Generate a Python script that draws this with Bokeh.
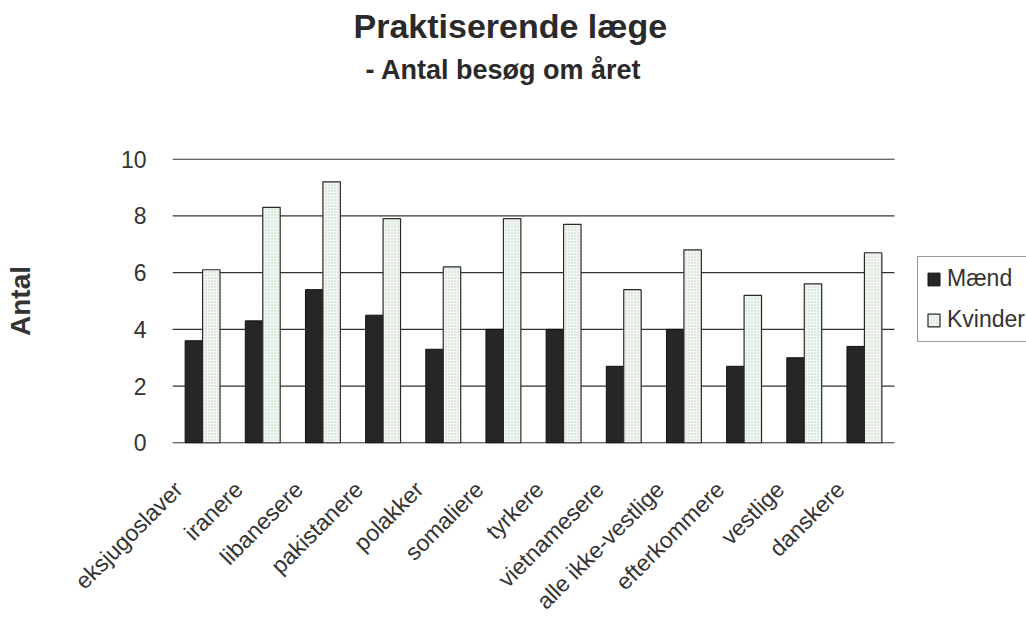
from math import pi

from bokeh.embed import file_html
from bokeh.models import (ColumnDataSource, FixedTicker, Legend, LegendItem,
                          Range1d, Title)
from bokeh.plotting import figure
from bokeh.resources import INLINE
from bokeh.transform import dodge

# Average number of GP visits per year, by origin group
groups = ["eksjugoslaver", "iranere", "libanesere", "pakistanere", "polakker",
          "somaliere", "tyrkere", "vietnamesere", "alle ikke-vestlige",
          "efterkommere", "vestlige", "danskere"]
maend = [3.6, 4.3, 5.4, 4.5, 3.3, 4.0, 4.0, 2.7, 4.0, 2.7, 3.0, 3.4]
kvinder = [6.1, 8.3, 9.2, 7.9, 6.2, 7.9, 7.7, 5.4, 6.8, 5.2, 5.6, 6.7]
y_ticks = [0, 2, 4, 6, 8, 10]

title_text = "Praktiserende læge"
subtitle_text = "- Antal besøg om året"
y_label = "Antal"
series_names = ["Mænd", "Kvinder"]

FONT = "Liberation Sans"

n = len(groups)
centers = [i + 0.5 for i in range(n)]
source = ColumnDataSource(data=dict(xc=centers, maend=maend, kvinder=kvinder))

# the frame runs on to the right edge so the legend can sit beside the bars
FRAME_LEFT, BAR_RIGHT, WIDTH = 172, 894, 1026
x_end = n * (WIDTH - FRAME_LEFT) / (BAR_RIGHT - FRAME_LEFT)

p = figure(
    width=WIDTH, height=626,
    x_range=Range1d(0, x_end),
    y_range=Range1d(-0.02, 10.02),
    output_backend="svg", toolbar_location=None,
    min_border_left=FRAME_LEFT, min_border_right=0,
    min_border_top=0, min_border_bottom=182,
)
p.outline_line_color = None
p.background_fill_color = "white"
p.border_fill_color = "white"

# horizontal gridlines across the bar area only
p.xgrid.grid_line_color = None
p.ygrid.grid_line_color = None
p.segment(x0=[0] * len(y_ticks), x1=[n] * len(y_ticks), y0=y_ticks, y1=y_ticks,
          line_color="#333333", line_width=1.2)

bar_w = 0.29
r_m = p.vbar(x=dodge("xc", -bar_w / 2), top="maend",
             width=bar_w, source=source, fill_color="#262626",
             line_color="#111111", line_width=1)
r_k = p.vbar(x=dodge("xc", bar_w / 2), top="kvinder",
             width=bar_w, source=source, fill_color="#f3f7f3",
             line_color="#2a2a2a", line_width=1.2,
             hatch_pattern="dot", hatch_color="#bcd3bc",
             hatch_scale=3, hatch_weight=1)

p.yaxis.ticker = y_ticks
p.yaxis.axis_line_color = None
p.yaxis.major_tick_line_color = None
p.yaxis.minor_tick_line_color = None
p.yaxis.major_label_text_font = FONT
p.yaxis.major_label_text_font_size = "23px"
p.yaxis.major_label_text_color = "#333333"
p.yaxis.major_label_standoff = 20
p.yaxis.axis_label = y_label
p.yaxis.axis_label_text_font = FONT
p.yaxis.axis_label_text_font_size = "28px"
p.yaxis.axis_label_text_font_style = "bold"
p.yaxis.axis_label_text_color = "#333333"
p.yaxis.axis_label_standoff = 82

# category labels hang slightly left of each group, slanted upward
label_shift = -0.4
label_pos = [c + label_shift for c in centers]
p.xaxis.ticker = FixedTicker(ticks=label_pos)
p.xaxis.major_label_overrides = {pos: g for pos, g in zip(label_pos, groups)}
p.xaxis.axis_line_color = None
p.xaxis.major_tick_line_color = None
p.xaxis.minor_tick_line_color = None
p.xaxis.major_label_orientation = pi / 4
p.xaxis.major_label_text_font = FONT
p.xaxis.major_label_text_font_size = "23px"
p.xaxis.major_label_text_color = "#333333"
p.xaxis.major_label_standoff = 36

# titles, left-aligned from the frame edge; an empty title keeps the gap
p.add_layout(Title(text=" ", text_font_size="1px", standoff=67), "above")
p.add_layout(Title(text=subtitle_text, align="left", offset=193,
                   text_font=FONT, text_font_size="27px",
                   text_font_style="bold", text_color="#2a2a2a",
                   standoff=8), "above")
p.add_layout(Title(text=title_text, align="left", offset=181,
                   text_font=FONT, text_font_size="34px",
                   text_font_style="bold", text_color="#2a2a2a",
                   standoff=8), "above")

legend = Legend(
    items=[LegendItem(label=series_names[0], renderers=[r_m]),
           LegendItem(label=series_names[1], renderers=[r_k])],
    location=(745, 101),
    label_text_font=FONT, label_text_font_size="23px",
    label_text_color="#333333",
    glyph_width=15, glyph_height=16,
    spacing=14, padding=8, margin=0, label_standoff=6,
    border_line_color="#333333", border_line_width=1.5,
    background_fill_color="white", background_fill_alpha=1,
)
p.add_layout(legend, "center")

open("out.html", "w").write(file_html(p, INLINE))
